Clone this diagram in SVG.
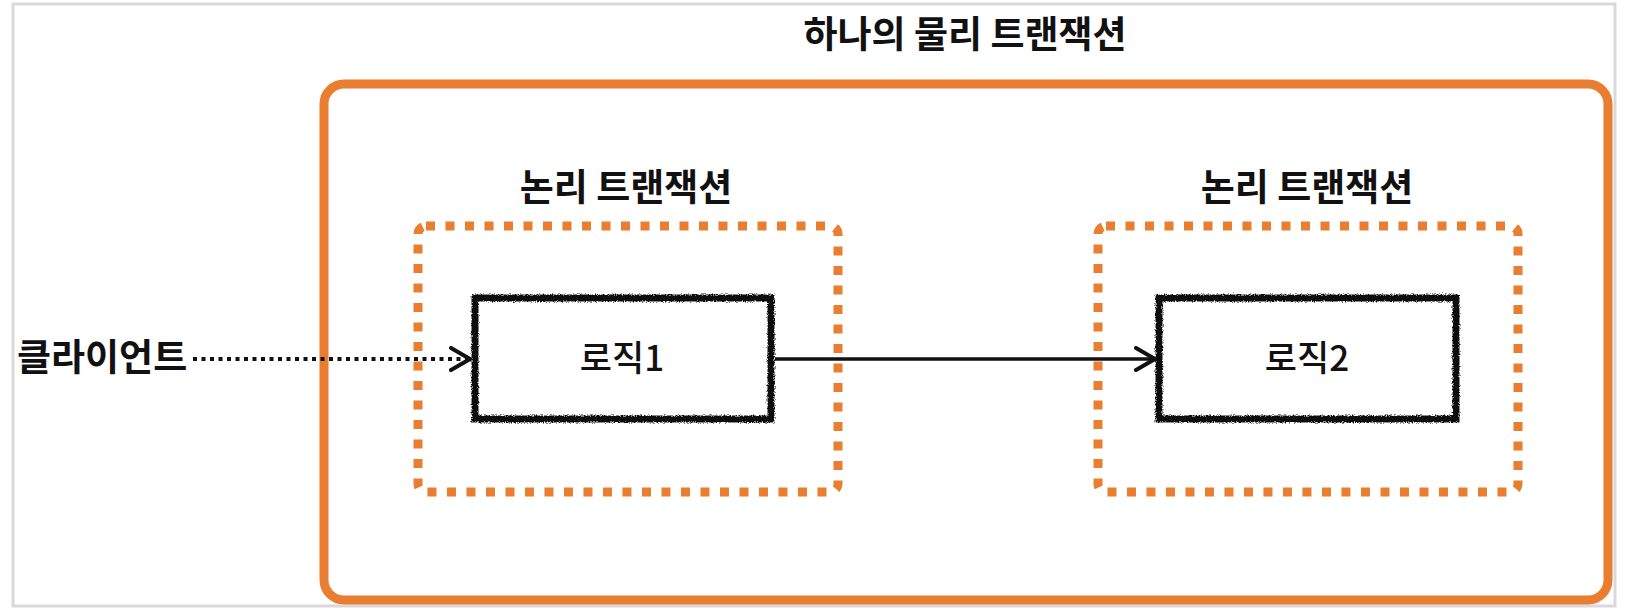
<svg xmlns="http://www.w3.org/2000/svg" width="1628" height="616" viewBox="0 0 1628 616">
  <style>
    .ko { font-family: "Noto Sans CJK KR", "Liberation Sans", sans-serif; fill: #111; }
    .bold { font-weight: 700; font-size: 37px; }
    .reg { font-weight: 500; font-size: 35px; }
    .outer { fill: none; stroke: #e97d30; stroke-width: 9; }
    .logical { fill: none; stroke: #e97d30; stroke-width: 9; stroke-dasharray: 9 10.5; }
    .logic { fill: #ffffff; stroke: #111; stroke-width: 7; }
    .conn { fill: none; stroke: #111; stroke-width: 3.5; }
    .dotted { stroke-dasharray: 4 4.5; stroke-width: 4; }
  </style>
  <defs>
    <filter id="rough" x="-5%" y="-10%" width="110%" height="120%">
      <feTurbulence type="fractalNoise" baseFrequency="0.9" numOctaves="2" seed="3" result="n"/>
      <feDisplacementMap in="SourceGraphic" in2="n" scale="4" xChannelSelector="R" yChannelSelector="G"/>
    </filter>
    <marker id="open" viewBox="0 0 24 26" refX="21" refY="13" markerWidth="24" markerHeight="26" markerUnits="userSpaceOnUse" orient="auto">
      <path d="M2,2 L21,13 L2,24" fill="none" stroke="#111" stroke-width="4" stroke-linecap="round" stroke-linejoin="round"/>
    </marker>
  </defs>
  <rect width="1628" height="616" fill="#ffffff"/>
  <rect id="frame" x="13" y="4" width="1602" height="602" fill="none" stroke="#d9d9d9" stroke-width="3"/>

  <g id="physical-transaction">
    <rect class="outer" x="324" y="84" width="1284" height="516" rx="20" ry="20"/>
    <text class="ko bold" x="965" y="48" text-anchor="middle">하나의 물리 트랜잭션</text>
  </g>

  <g id="logical-transaction-1">
    <rect class="logical" x="418" y="226" width="420" height="266" rx="8" ry="8"/>
    <text class="ko bold" x="626" y="201" text-anchor="middle">논리 트랜잭션</text>
  </g>

  <g id="logical-transaction-2">
    <rect class="logical" x="1098" y="226" width="420" height="266" rx="8" ry="8"/>
    <text class="ko bold" x="1307" y="201" text-anchor="middle">논리 트랜잭션</text>
  </g>

  <g id="client">
    <text class="ko bold" x="17" y="371">클라이언트</text>
  </g>

  <g id="logic1">
    <rect class="logic" x="475" y="298" width="296" height="121" filter="url(#rough)"/>
    <text class="ko reg" x="622" y="371" text-anchor="middle">로직1</text>
  </g>

  <g id="logic2">
    <rect class="logic" x="1159" y="298" width="297" height="121" filter="url(#rough)"/>
    <text class="ko reg" x="1307" y="371" text-anchor="middle">로직2</text>
  </g>

  <g id="connectors">
    <line class="conn dotted" x1="193" y1="359" x2="470" y2="359" marker-end="url(#open)"/>
    <line class="conn" x1="775" y1="359" x2="1155" y2="359" marker-end="url(#open)"/>
  </g>
</svg>
